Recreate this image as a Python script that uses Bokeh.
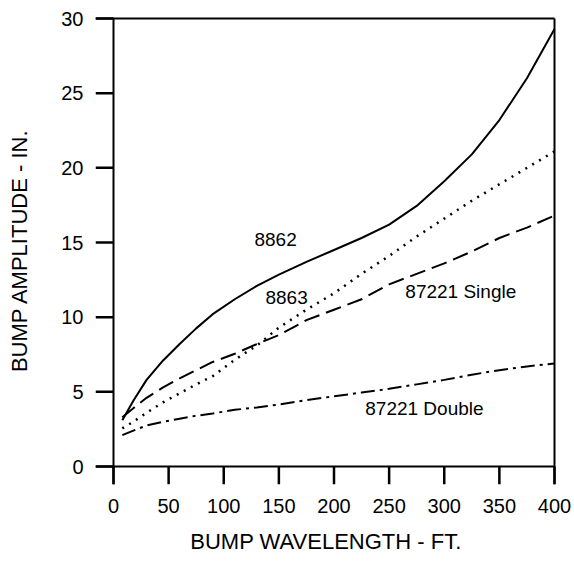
from bokeh.plotting import figure
from bokeh.models import Range1d, FixedTicker, ColumnDataSource
from bokeh.core.properties import value
from bokeh.embed import file_html
from bokeh.resources import INLINE

# Data
wavelength = [8, 18, 30, 45, 60, 75, 90, 110, 130, 150, 175, 200, 225, 250, 275, 300, 325, 350, 375, 400]
amp_8862 = [3.1, 4.4, 5.8, 7.1, 8.2, 9.25, 10.2, 11.2, 12.1, 12.85, 13.7, 14.5, 15.3, 16.2, 17.45, 19.1, 20.9, 23.2, 26.0, 29.3]
amp_8863 = [2.55, 3.0, 3.6, 4.3, 4.9, 5.5, 6.05, 7.15, 8.1, 9.3, 10.5, 11.6, 12.9, 14.1, 15.4, 16.6, 17.8, 18.9, 20.0, 21.1]
amp_87221_single = [3.3, 3.9, 4.6, 5.3, 5.9, 6.45, 7.0, 7.55, 8.2, 8.8, 9.8, 10.5, 11.2, 12.2, 12.9, 13.6, 14.4, 15.3, 16.0, 16.8]
amp_87221_double = [2.1, 2.4, 2.75, 3.0, 3.2, 3.4, 3.55, 3.8, 3.95, 4.15, 4.45, 4.7, 4.95, 5.2, 5.5, 5.8, 6.15, 6.45, 6.7, 6.9]

label_x = [147, 157, 315, 282]
label_y = [15.2, 11.3, 11.7, 3.9]
label_text = ["8862", "8863", "87221 Single", "87221 Double"]

x_ticks = [0, 50, 100, 150, 200, 250, 300, 350, 400]
y_ticks = [0, 5, 10, 15, 20, 25, 30]

FONT = "Liberation Sans"
X_MIN, X_MAX, Y_MIN, Y_MAX = 0, 400, 0, 30
PLOT_W, PLOT_H = 441, 448   # pixel size of the 0..400 x 0..30 box
TICK_PX = 18
PAD_PX = 2

dx = (X_MAX - X_MIN) / PLOT_W   # data units per pixel
dy = (Y_MAX - Y_MIN) / PLOT_H

p = figure(width=574, height=569, output_backend="svg", toolbar_location=None,
           x_range=Range1d(X_MIN - TICK_PX * dx, X_MAX + PAD_PX * dx),
           y_range=Range1d(Y_MIN - TICK_PX * dy, Y_MAX + PAD_PX * dy),
           min_border_left=95, min_border_right=18, min_border_top=16, min_border_bottom=85)

p.xgrid.visible = False
p.ygrid.visible = False
p.outline_line_color = None
p.background_fill_color = "white"
p.border_fill_color = "white"

# box (axes + top/right border) and outward ticks
box = ColumnDataSource(dict(
    x0=[X_MIN, X_MIN - TICK_PX * dx, X_MIN - TICK_PX * dx, X_MAX],
    y0=[Y_MIN - TICK_PX * dy, Y_MIN, Y_MAX, Y_MIN - TICK_PX * dy],
    x1=[X_MIN, X_MAX, X_MAX, X_MAX],
    y1=[Y_MAX, Y_MIN, Y_MAX, Y_MAX]))
p.segment("x0", "y0", "x1", "y1", source=box, line_color="black", line_width=2)

tick_x0 = list(x_ticks) + [X_MIN] * len(y_ticks)
tick_y0 = [Y_MIN] * len(x_ticks) + list(y_ticks)
tick_x1 = list(x_ticks) + [X_MIN - TICK_PX * dx] * len(y_ticks)
tick_y1 = [Y_MIN - TICK_PX * dy] * len(x_ticks) + list(y_ticks)
ticks = ColumnDataSource(dict(x0=tick_x0, y0=tick_y0, x1=tick_x1, y1=tick_y1))
p.segment("x0", "y0", "x1", "y1", source=ticks, line_color="black", line_width=2.5)

src = ColumnDataSource(dict(x=wavelength, a=amp_8862, b=amp_8863, c=amp_87221_single, d=amp_87221_double))
p.line("x", "a", source=src, line_color="black", line_width=2)
p.line("x", "b", source=src, line_color="black", line_width=2.5, line_dash="2 6")
p.line("x", "c", source=src, line_color="black", line_width=2, line_dash="16 7")
p.line("x", "d", source=src, line_color="black", line_width=2, line_dash="14 5 3 5")

lsrc = ColumnDataSource(dict(x=label_x, y=label_y, t=label_text))
p.text("x", "y", text="t", source=lsrc, text_font=value(FONT), text_font_size="19px",
       text_align="center", text_baseline="middle", text_color="black")

for ax in (p.xaxis[0], p.yaxis[0]):
    ax.axis_line_color = None
    ax.major_tick_line_color = None
    ax.major_tick_out = 0
    ax.major_tick_in = 0
    ax.minor_tick_line_color = None
    ax.major_label_text_font = FONT
    ax.major_label_text_font_size = "20px"
    ax.major_label_text_color = "black"
    ax.axis_label_text_font = FONT
    ax.axis_label_text_font_size = "22px"
    ax.axis_label_text_font_style = "normal"
    ax.axis_label_text_color = "black"

p.xaxis.ticker = FixedTicker(ticks=x_ticks)
p.yaxis.ticker = FixedTicker(ticks=y_ticks)
p.xaxis.axis_label = "BUMP WAVELENGTH - FT."
p.yaxis.axis_label = "BUMP AMPLITUDE - IN."
p.xaxis.major_label_standoff = 14
p.yaxis.major_label_standoff = 12
p.xaxis.axis_label_standoff = 13
p.yaxis.axis_label_standoff = 26

open("out.html", "w").write(file_html(p, INLINE))
